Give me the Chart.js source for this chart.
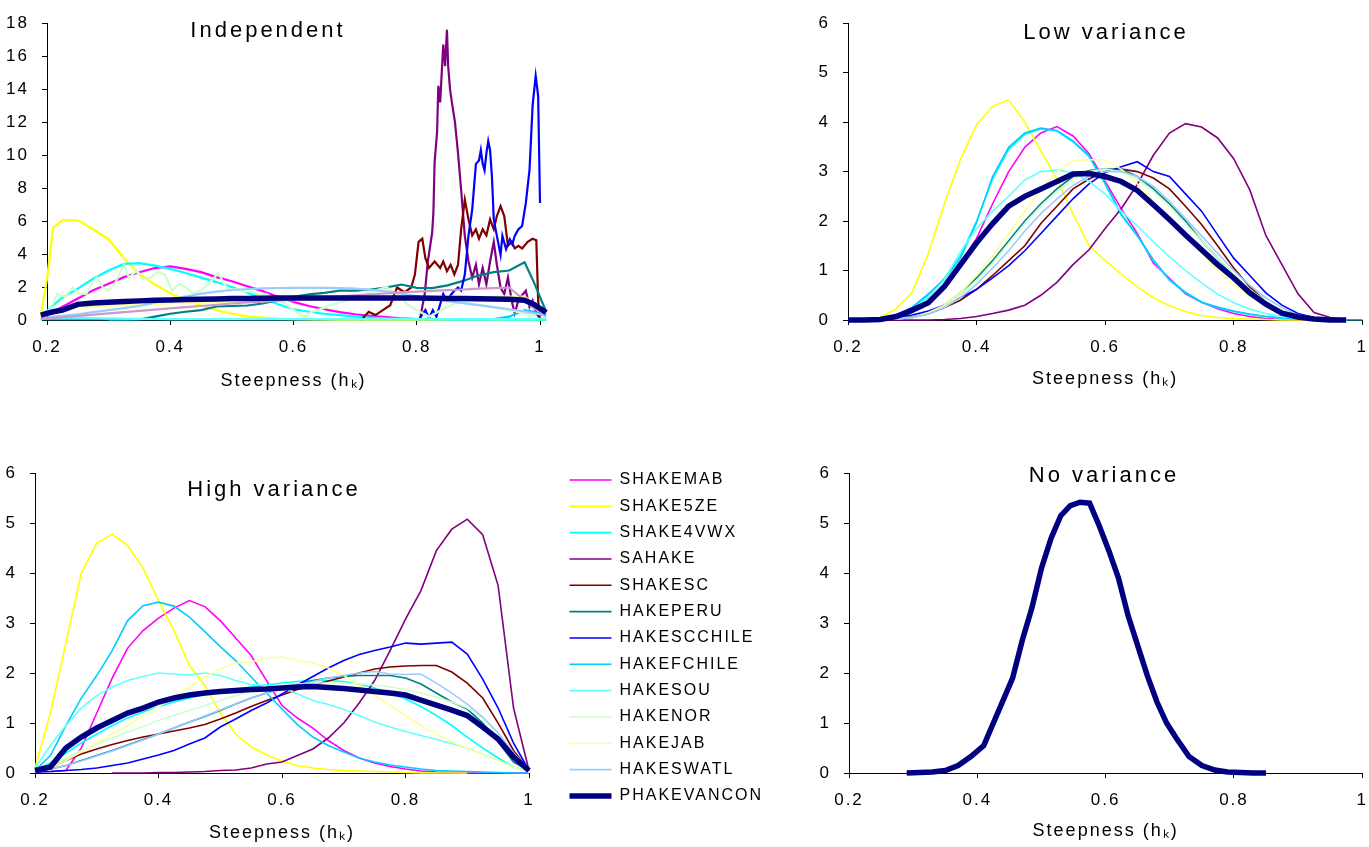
<!DOCTYPE html>
<html lang="en">
<head>
  <meta charset="UTF-8" />
  <title>Steepness (h) distributions</title>
  <style>
    html, body { margin: 0; padding: 0; background: #fff; overflow: hidden; }
    body { position: relative; width: 1369px; height: 847px; }
    canvas { position: absolute; }
  </style>
</head>
<body>
  <canvas id="indep" width="560" height="400" style="left:0;top:0"></canvas>
  <canvas id="low" width="600" height="400" style="left:780px;top:0"></canvas>
  <canvas id="high" width="773" height="397" style="left:0;top:450px"></canvas>
  <canvas id="none" width="600" height="397" style="left:780px;top:450px"></canvas>

  <script src="https://cdn.jsdelivr.net/npm/chart.js@4"></script>
  <script>
    // ---------- Independent ----------
    const indepX = [0.19, 0.2, 0.21, 0.225, 0.25, 0.275, 0.3, 0.325, 0.35, 0.375, 0.4, 0.425, 0.45, 0.475, 0.5, 0.525, 0.55, 0.575, 0.6, 0.625, 0.65, 0.675, 0.7, 0.725, 0.75, 0.775, 0.8, 0.825, 0.85, 0.875, 0.9, 0.925, 0.95, 0.975, 0.99, 1.01];
    const indepShakemab = [0.2, 0.3, 0.5, 0.8, 1.3, 1.8, 2.2, 2.6, 2.9, 3.15, 3.25, 3.1, 2.9, 2.6, 2.35, 2.05, 1.75, 1.4, 1.1, 0.85, 0.65, 0.48, 0.35, 0.25, 0.17, 0.1, 0.06, 0.04, 0.02, 0.01, 0, 0, 0, 0, 0, 0];
    const indepShake5ze = [0.3, 2.5, 5.6, 6.05, 6.05, 5.5, 4.9, 3.75, 2.8, 2.15, 1.62, 1.2, 0.88, 0.6, 0.38, 0.22, 0.14, 0.08, 0.05, 0.03, 0.02, 0.01, 0.01, 0, 0, 0, 0, 0, 0, 0, 0, 0, 0, 0, 0, 0];
    const indepShake4vwx = [0.3, 0.55, 0.9, 1.35, 1.9, 2.5, 3.0, 3.4, 3.45, 3.3, 3.1, 2.85, 2.57, 2.3, 2.0, 1.65, 1.3, 0.95, 0.65, 0.5, 0.38, 0.3, 0.2, 0.15, 0.1, 0.08, 0.06, 0.05, 0.04, 0.04, 0.03, 0.03, 0.02, 0.02, 0.02, 0.02];
    const indepHakeperu = [null, null, null, null, null, null, 0, 0.01, 0.03, 0.2, 0.38, 0.5, 0.6, 0.82, 0.85, 0.88, 1.0, 1.2, 1.4, 1.55, 1.65, 1.78, 1.78, 1.85, 1.97, 2.15, 1.95, 1.93, 2.1, 2.37, 2.7, 2.9, 3.0, 3.5, 2.3, 0.5];
    const indepHakefchile = [0.05, 0.05, 0.05, 0.05, 0.05, 0.05, 0.05, 0.05, 0.05, 0.05, 0.05, 0.05, 0.05, 0.05, 0.05, 0.05, 0.05, 0.05, 0.05, 0.05, 0.05, 0.05, 0.05, 0.05, 0.05, 0.05, 0.05, 0.05, 0.05, 0.05, 0.05, 0.05, 0.2, 0.6, 0.5, 0.25];
    const indepHakesou = [0.1, 0.12, 0.15, 0.15, 0.15, 0.12, 0.1, 0.08, 0.07, 0.06, 0.05, 0.05, 0.05, 0.05, 0.05, 0.05, 0.05, 0.05, 0.05, 0.05, 0.05, 0.05, 0.05, 0.05, 0.05, 0.05, 0.05, 0.05, 0.05, 0.05, 0.05, 0.05, 0.05, 0.05, 0.05, 0.1];
    const indepHakejab = [0.2, 0.3, 0.5, 0.65, 0.75, 0.8, 0.85, 0.9, 0.92, 0.95, 1.0, 1.02, 1.05, 1.08, 1.1, 1.13, 1.15, 1.18, 1.2, 1.22, 1.25, 1.28, 1.3, 1.32, 1.33, 1.35, 1.36, 1.38, 1.4, 1.4, 1.4, 1.42, 1.42, 1.42, 1.0, 0.3];
    const indepHakeswatl = [0.1, 0.15, 0.2, 0.25, 0.35, 0.48, 0.6, 0.72, 0.85, 1.05, 1.25, 1.42, 1.6, 1.72, 1.82, 1.88, 1.92, 1.94, 1.95, 1.95, 1.95, 1.93, 1.9, 1.83, 1.75, 1.6, 1.45, 1.3, 1.15, 1.02, 0.9, 0.78, 0.65, 0.52, 0.4, 0.3];
    const indepLilac = [0.05, 0.1, 0.13, 0.18, 0.25, 0.33, 0.4, 0.48, 0.55, 0.63, 0.7, 0.78, 0.85, 0.92, 1.0, 1.06, 1.12, 1.18, 1.25, 1.31, 1.37, 1.43, 1.5, 1.56, 1.62, 1.67, 1.72, 1.77, 1.81, 1.85, 1.9, 1.93, 1.97, 1.2, 0.7, 0.3];
    const indepPhakevancon = [0.3, 0.4, 0.5, 0.6, 0.95, 1.03, 1.08, 1.12, 1.16, 1.2, 1.22, 1.24, 1.26, 1.28, 1.3, 1.31, 1.32, 1.33, 1.34, 1.34, 1.34, 1.34, 1.34, 1.34, 1.33, 1.33, 1.33, 1.32, 1.31, 1.3, 1.29, 1.28, 1.26, 1.2, 0.95, 0.45];

    const indepSahakeX = [0.805, 0.813, 0.818, 0.825, 0.827, 0.829, 0.833, 0.835, 0.838, 0.843, 0.846, 0.849, 0.851, 0.854, 0.857, 0.862, 0.867, 0.872, 0.878, 0.884, 0.89, 0.896, 0.901, 0.907, 0.913, 0.919, 0.925, 0.93, 0.936, 0.942, 0.948, 0.954, 0.959, 0.965, 0.971, 0.977, 0.983, 0.988, 0.994, 1.0];
    const indepSahake = [0, 1.6, 3.55, 5.3, 6.5, 9.6, 11.4, 14.2, 13.2, 16.7, 15.4, 17.6, 15.4, 14.0, 13.2, 12.0, 10.1, 7.9, 5.1, 3.55, 2.57, 3.35, 2.17, 3.16, 2.17, 3.55, 4.74, 3.35, 1.97, 1.58, 2.57, 1.18, 0.4, 1.18, 1.5, 1.78, 0.79, 1.18, 0.4, 0.1];
    const indepShakescX = [0.71, 0.722, 0.733, 0.745, 0.757, 0.768, 0.78, 0.791, 0.797, 0.803, 0.809, 0.814, 0.82, 0.829, 0.838, 0.843, 0.849, 0.855, 0.861, 0.867, 0.872, 0.878, 0.884, 0.89, 0.896, 0.901, 0.907, 0.913, 0.919, 0.925, 0.93, 0.936, 0.942, 0.948, 0.954, 0.959, 0.965, 0.971, 0.98, 0.988, 0.994, 0.997, 1.0];
    const indepShakesc = [0, 0.5, 0.3, 0.6, 0.9, 1.97, 1.68, 1.97, 2.76, 4.74, 4.93, 3.75, 3.16, 3.55, 3.16, 3.55, 2.96, 3.35, 2.76, 3.35, 5.5, 7.3, 6.1, 5.13, 5.5, 4.93, 5.5, 5.13, 6.1, 5.5, 6.3, 6.9, 6.3, 4.5, 4.74, 4.34, 4.5, 4.34, 4.74, 4.93, 4.84, 1.2, 0];
    const indepHakescchileX = [0.803, 0.814, 0.82, 0.826, 0.832, 0.843, 0.849, 0.855, 0.861, 0.867, 0.872, 0.878, 0.884, 0.89, 0.896, 0.901, 0.904, 0.907, 0.91, 0.913, 0.916, 0.919, 0.922, 0.925, 0.93, 0.936, 0.939, 0.945, 0.951, 0.955, 0.959, 0.965, 0.971, 0.977, 0.983, 0.988, 0.993, 0.997, 1.0, 1.003, 1.006];
    const indepHakescchile = [0, 0.6, 0.1, 0.6, 0.2, 1.58, 1.18, 1.5, 1.78, 1.97, 1.78, 2.76, 5.13, 6.7, 9.47, 9.67, 10.3, 9.47, 9.08, 10.1, 10.85, 10.3, 8.7, 6.1, 5.1, 3.95, 5.1, 4.3, 4.9, 4.6, 5.1, 5.5, 5.7, 7.1, 9.1, 13.0, 14.8, 13.6, 7.1, 1.2, 0.1];
    const indepHakenorX = [0.19, 0.2, 0.21, 0.217, 0.23, 0.241, 0.252, 0.264, 0.272, 0.281, 0.29, 0.299, 0.31, 0.325, 0.333, 0.345, 0.355, 0.368, 0.38, 0.391, 0.403, 0.415, 0.426, 0.437, 0.449, 0.46, 0.47, 0.478, 0.487, 0.496, 0.51, 0.52, 0.53, 0.545, 0.555, 0.565, 0.575, 0.588, 0.6, 0.617, 0.63, 0.646, 0.66, 0.675, 0.69, 0.704, 0.718, 0.733, 0.742, 0.751, 0.762, 0.774, 0.783, 0.791, 0.805, 0.82, 0.835, 0.849, 0.862, 0.878, 0.892, 0.907, 0.92, 0.936, 0.95, 0.965, 0.98, 0.994];
    const indepHakenor = [0.3, 0.4, 1.0, 1.58, 1.4, 1.97, 1.6, 1.58, 2.2, 2.57, 2.0, 1.78, 2.2, 3.35, 2.57, 2.96, 2.5, 2.57, 2.9, 2.76, 1.78, 2.2, 1.97, 1.6, 1.78, 2.1, 2.5, 2.86, 2.2, 1.78, 1.9, 1.7, 1.78, 1.5, 1.6, 1.38, 1.2, 0.99, 0.6, 0.2, 0.5, 0.69, 0.9, 1.08, 1.2, 1.38, 1.6, 1.78, 1.9, 2.0, 1.7, 1.38, 1.0, 0.79, 0.5, 0.2, 0.5, 0.79, 1.0, 1.08, 0.95, 0.89, 0.8, 0.69, 0.6, 0.49, 0.35, 0.2];

    // ---------- Low variance / High variance (shared steepness grid) ----------
    const gridX = [0.2, 0.225, 0.25, 0.275, 0.3, 0.325, 0.35, 0.375, 0.4, 0.425, 0.45, 0.475, 0.5, 0.525, 0.55, 0.575, 0.6, 0.625, 0.65, 0.675, 0.7, 0.725, 0.75, 0.775, 0.8, 0.825, 0.85, 0.875, 0.9, 0.925, 0.95, 0.975, 1.0];

    const lowShakemab = [0, 0, 0.01, 0.05, 0.15, 0.38, 0.7, 1.15, 1.65, 2.35, 3.0, 3.49, 3.78, 3.91, 3.72, 3.36, 2.8, 2.25, 1.75, 1.15, 0.84, 0.53, 0.36, 0.23, 0.13, 0.07, 0.03, 0.01, 0, 0, 0, 0, null];
    const lowShake5ze = [0, 0, 0.05, 0.23, 0.56, 1.35, 2.35, 3.25, 3.95, 4.32, 4.45, 4.0, 3.42, 2.85, 2.15, 1.5, 1.2, 0.93, 0.67, 0.45, 0.29, 0.17, 0.09, 0.05, 0.03, 0.02, 0.01, 0, 0, 0, 0, 0, null];
    const lowShake4vwx = [0, 0, 0.01, 0.08, 0.24, 0.5, 0.85, 1.3, 2.0, 2.85, 3.45, 3.75, 3.86, 3.82, 3.6, 3.3, 2.75, 2.12, 1.7, 1.2, 0.8, 0.55, 0.36, 0.25, 0.17, 0.11, 0.07, 0.04, 0.02, 0.01, 0, 0, null];
    const lowSahake = [0, 0, 0, 0, 0, 0, 0.01, 0.03, 0.07, 0.13, 0.2, 0.3, 0.5, 0.76, 1.12, 1.42, 1.85, 2.25, 2.74, 3.33, 3.78, 3.97, 3.9, 3.68, 3.26, 2.63, 1.71, 1.12, 0.53, 0.15, 0.05, 0.01, null];
    const lowShakesc = [0, 0, 0, 0.02, 0.05, 0.12, 0.25, 0.4, 0.62, 0.9, 1.2, 1.5, 1.95, 2.3, 2.65, 2.85, 3.0, 3.05, 3.0, 2.87, 2.65, 2.3, 1.93, 1.5, 1.05, 0.67, 0.37, 0.17, 0.07, 0.02, 0, 0, null];
    const lowHakeperu = [0, 0, 0.01, 0.03, 0.06, 0.15, 0.3, 0.55, 0.85, 1.2, 1.6, 2.0, 2.35, 2.65, 2.9, 3.02, 3.05, 3.05, 2.9, 2.65, 2.35, 2.0, 1.6, 1.25, 0.9, 0.6, 0.35, 0.17, 0.07, 0.02, 0, 0, 0];
    const lowHakescchile = [0, 0, 0.02, 0.05, 0.1, 0.18, 0.3, 0.45, 0.62, 0.85, 1.1, 1.4, 1.75, 2.1, 2.45, 2.75, 2.98, 3.1, 3.2, 3.0, 2.9, 2.55, 2.2, 1.72, 1.25, 0.9, 0.55, 0.3, 0.13, 0.05, 0.01, 0, null];
    const lowHakefchile = [0, 0, 0.01, 0.1, 0.26, 0.53, 0.82, 1.25, 1.97, 2.9, 3.49, 3.78, 3.88, 3.83, 3.62, 3.32, 2.76, 2.14, 1.71, 1.22, 0.82, 0.56, 0.36, 0.26, 0.18, 0.12, 0.07, 0.04, 0.02, 0.01, 0, 0, null];
    const lowHakesou = [0, 0, 0.03, 0.1, 0.22, 0.45, 0.82, 1.38, 1.85, 2.2, 2.5, 2.83, 3.0, 3.03, 2.98, 2.8, 2.55, 2.2, 1.9, 1.58, 1.28, 1.0, 0.75, 0.52, 0.35, 0.22, 0.13, 0.07, 0.03, 0.01, 0, 0, null];
    const lowHakenor = [0, 0, 0.01, 0.02, 0.05, 0.12, 0.27, 0.5, 0.8, 1.15, 1.55, 1.95, 2.3, 2.6, 2.85, 3.0, 3.05, 3.0, 2.85, 2.6, 2.3, 1.95, 1.6, 1.25, 0.92, 0.62, 0.38, 0.2, 0.08, 0.03, 0, 0, null];
    const lowHakejab = [0, 0, 0.01, 0.02, 0.05, 0.15, 0.3, 0.55, 0.9, 1.3, 1.75, 2.2, 2.65, 3.0, 3.22, 3.24, 3.24, 3.05, 2.75, 2.4, 2.05, 1.7, 1.35, 1.0, 0.72, 0.48, 0.3, 0.16, 0.07, 0.02, 0, 0, null];
    const lowHakeswatl = [0, 0, 0.01, 0.02, 0.05, 0.12, 0.25, 0.45, 0.72, 1.05, 1.4, 1.8, 2.15, 2.45, 2.72, 2.9, 3.0, 3.0, 2.9, 2.7, 2.4, 2.05, 1.7, 1.35, 1.0, 0.7, 0.45, 0.25, 0.1, 0.04, 0.01, 0, null];
    const lowPhakevancon = [0, 0, 0.01, 0.07, 0.2, 0.35, 0.68, 1.12, 1.56, 1.95, 2.3, 2.5, 2.65, 2.8, 2.95, 2.96, 2.9, 2.8, 2.62, 2.33, 2.03, 1.72, 1.42, 1.12, 0.85, 0.55, 0.32, 0.14, 0.06, 0.02, 0, 0, null];

    const highShakemab = [0.02, 0.03, 0.05, 0.5, 1.2, 1.9, 2.5, 2.85, 3.1, 3.3, 3.45, 3.33, 3.05, 2.7, 2.35, 1.85, 1.35, 1.1, 0.9, 0.65, 0.45, 0.3, 0.2, 0.13, 0.08, 0.04, 0.02, 0.01, 0, 0, 0, 0, 0];
    const highShake5ze = [0.1, 1.2, 2.6, 4.0, 4.6, 4.78, 4.55, 4.1, 3.45, 2.85, 2.15, 1.75, 1.2, 0.78, 0.52, 0.36, 0.24, 0.15, 0.1, 0.07, 0.05, 0.04, 0.03, 0.02, 0.01, 0, 0, 0, 0, null, null, null, null];
    const highShake4vwx = [0.05, 0.2, 0.4, 0.6, 0.78, 0.95, 1.1, 1.22, 1.33, 1.42, 1.5, 1.57, 1.63, 1.68, 1.72, 1.76, 1.8, 1.83, 1.85, 1.85, 1.83, 1.78, 1.7, 1.6, 1.48, 1.33, 1.15, 0.95, 0.72, 0.5, 0.3, 0.12, 0.03];
    const highSahake = [null, null, null, null, null, 0, 0, 0, 0.01, 0.01, 0.02, 0.03, 0.05, 0.06, 0.1, 0.18, 0.22, 0.35, 0.48, 0.7, 1.0, 1.4, 1.85, 2.45, 3.08, 3.65, 4.45, 4.88, 5.08, 4.77, 3.75, 1.3, 0.05];
    const highShakesc = [0.02, 0.12, 0.25, 0.38, 0.48, 0.57, 0.65, 0.72, 0.78, 0.84, 0.9, 0.97, 1.08, 1.2, 1.33, 1.45, 1.56, 1.67, 1.76, 1.84, 1.92, 2.0, 2.08, 2.12, 2.14, 2.15, 2.15, 2.02, 1.8, 1.5, 1.0, 0.45, 0.05];
    const highHakeperu = [0.02, 0.08, 0.15, 0.25, 0.35, 0.45, 0.56, 0.67, 0.78, 0.9, 1.02, 1.13, 1.25, 1.38, 1.5, 1.6, 1.7, 1.78, 1.85, 1.9, 1.93, 1.95, 1.95, 1.95, 1.9, 1.78, 1.6, 1.42, 1.28, 1.0, 0.62, 0.22, 0.05];
    const highHakescchile = [0.02, 0.03, 0.05, 0.07, 0.1, 0.15, 0.2, 0.28, 0.36, 0.45, 0.58, 0.7, 0.92, 1.08, 1.25, 1.4, 1.58, 1.76, 1.93, 2.1, 2.25, 2.37, 2.45, 2.52, 2.6, 2.58, 2.6, 2.62, 2.38, 1.88, 1.3, 0.6, 0.05];
    const highHakefchile = [0.05, 0.35, 0.95, 1.5, 1.95, 2.45, 3.05, 3.35, 3.42, 3.34, 3.12, 2.83, 2.53, 2.25, 1.92, 1.6, 1.28, 0.97, 0.72, 0.55, 0.42, 0.3, 0.22, 0.16, 0.12, 0.08, 0.05, 0.04, 0.03, 0.02, 0.01, 0, 0];
    const highHakesou = [0.1, 0.55, 0.95, 1.3, 1.55, 1.72, 1.85, 1.93, 2.0, 1.98, 1.96, 2.0, 1.95, 1.85, 1.77, 1.75, 1.72, 1.58, 1.45, 1.37, 1.27, 1.15, 1.02, 0.92, 0.83, 0.75, 0.67, 0.59, 0.5, 0.38, 0.25, 0.12, 0.02];
    const highHakenor = [0.02, 0.15, 0.3, 0.45, 0.58, 0.7, 0.82, 0.93, 1.05, 1.15, 1.25, 1.35, 1.45, 1.55, 1.63, 1.7, 1.75, 1.78, 1.8, 1.8, 1.8, 1.78, 1.76, 1.72, 1.67, 1.6, 1.52, 1.42, 1.3, 1.1, 0.8, 0.4, 0.05];
    const highHakejab = [0.02, 0.12, 0.25, 0.42, 0.6, 0.78, 0.95, 1.15, 1.33, 1.52, 1.72, 1.92, 2.08, 2.2, 2.22, 2.3, 2.32, 2.25, 2.2, 2.1, 1.95, 1.75, 1.55, 1.35, 1.15, 0.95, 0.78, 0.62, 0.5, 0.38, 0.25, 0.12, 0.02];
    const highHakeswatl = [0.02, 0.08, 0.15, 0.24, 0.34, 0.44, 0.55, 0.66, 0.78, 0.9, 1.02, 1.14, 1.26, 1.38, 1.5, 1.6, 1.68, 1.75, 1.83, 1.9, 1.95, 2.0, 2.03, 1.98, 1.97, 1.98, 1.8, 1.6, 1.38, 1.12, 0.8, 0.4, 0.05];
    const highPhakevancon = [0.05, 0.12, 0.5, 0.72, 0.9, 1.05, 1.2, 1.3, 1.42, 1.5, 1.56, 1.6, 1.63, 1.65, 1.67, 1.68, 1.7, 1.72, 1.73, 1.71, 1.69, 1.66, 1.63, 1.6, 1.56, 1.46, 1.36, 1.26, 1.15, 0.92, 0.68, 0.32, 0.05];

    // ---------- No variance ----------
    const noneX = [0.29, 0.31, 0.33, 0.35, 0.37, 0.39, 0.41, 0.425, 0.44, 0.455, 0.47, 0.485, 0.5, 0.515, 0.53, 0.545, 0.56, 0.575, 0.59, 0.605, 0.62, 0.635, 0.65, 0.665, 0.68, 0.695, 0.71, 0.73, 0.75, 0.77, 0.79, 0.81, 0.83, 0.85];
    const nonePhakevancon = [0, 0.01, 0.02, 0.05, 0.15, 0.33, 0.55, 1.0, 1.45, 1.9, 2.65, 3.3, 4.1, 4.7, 5.15, 5.35, 5.42, 5.4, 4.95, 4.45, 3.9, 3.15, 2.55, 1.95, 1.42, 1.0, 0.7, 0.33, 0.15, 0.06, 0.02, 0.01, 0, 0];

    // ---------- styling ----------
    const lineColors = {
      SHAKEMAB: '#ff00ff', SHAKE5ZE: '#ffff00', SHAKE4VWX: '#00ffff', SAHAKE: '#800080',
      SHAKESC: '#800000', HAKEPERU: '#008080', HAKESCCHILE: '#0000ff', HAKEFCHILE: '#00ccff',
      HAKESOU: '#66ffff', HAKENOR: '#ccffcc', HAKEJAB: '#ffff99', HAKESWATL: '#99ccff',
      PHAKEVANCON: '#000080', '': '#cc99cc'
    };

    // later series are drawn on top, like in the spreadsheet
    function buildSets(list, thin) {
      return list.map(([name, xs, ys], i) => ({
        label: name,
        data: xs.map((x, k) => ({ x: x, y: ys[k] })),
        borderColor: lineColors[name],
        backgroundColor: lineColors[name],
        borderWidth: name === 'PHAKEVANCON' ? 5.5 : (thin || 1.6),
        pointRadius: 0,
        tension: 0,
        clip: false,
        order: -i
      }));
    }

    const panelTitle = {
      id: 'panelTitle',
      afterDraw(chart, args, opts) {
        if (!opts.text) return;
        const ctx = chart.ctx;
        ctx.save();
        ctx.font = '22px "Liberation Sans", Arial, sans-serif';
        ctx.letterSpacing = '3px';
        ctx.fillStyle = '#000';
        ctx.textAlign = 'center';
        ctx.textBaseline = 'middle';
        ctx.fillText(opts.text, opts.x, opts.y);
        ctx.restore();
      }
    };

    // the old spreadsheet spreads its letters out a little
    const spacing = {
      id: 'spacing',
      beforeUpdate(chart, args, opts) { chart.ctx.letterSpacing = (opts.px || 0) + 'px'; },
      beforeDraw(chart, args, opts) { chart.ctx.letterSpacing = (opts.px || 0) + 'px'; }
    };

    Chart.register(panelTitle, spacing);
    Chart.defaults.font.family = '"Liberation Sans", Arial, sans-serif';
    Chart.defaults.color = '#000';

    function panelOptions(o) {
      return {
        responsive: false,
        animation: false,
        events: [],
        layout: { padding: o.padding },
        scales: {
          x: {
            type: 'linear', min: 0.2, max: 1,
            ticks: {
              stepSize: 0.2, autoSkip: false, maxRotation: 0, padding: 12, font: { size: 17 },
              callback: v => String(Number(v.toFixed(2)))
            },
            grid: { drawOnChartArea: false, color: '#000', tickLength: 5 },
            border: { color: '#000' },
            title: { display: true, text: 'Steepness (hₖ)', font: { size: 18 }, padding: { top: 0, bottom: o.titlePad } },
            afterFit: s => { s.height = o.xHeight; }
          },
          y: {
            min: 0, max: o.yMax,
            ticks: { stepSize: o.yStep, padding: 13, font: { size: 17 } },
            grid: { drawOnChartArea: false, color: '#000', tickLength: 5 },
            border: { color: '#000' },
            afterFit: s => { s.width = o.yWidth; }
          }
        },
        plugins: {
          legend: { display: false },
          tooltip: { enabled: false },
          panelTitle: { text: o.title, x: o.titleX, y: o.titleY },
          spacing: { px: 2 }
        }
      };
    }

    new Chart(document.getElementById('indep'), {
      type: 'line',
      data: {
        datasets: buildSets([
          ['SHAKEMAB', indepX, indepShakemab],
          ['SHAKE5ZE', indepX, indepShake5ze],
          ['SHAKE4VWX', indepX, indepShake4vwx],
          ['SAHAKE', indepSahakeX, indepSahake],
          ['SHAKESC', indepShakescX, indepShakesc],
          ['HAKEPERU', indepX, indepHakeperu],
          ['HAKESCCHILE', indepHakescchileX, indepHakescchile],
          ['HAKEFCHILE', indepX, indepHakefchile],
          ['HAKESOU', indepX, indepHakesou],
          ['HAKENOR', indepHakenorX, indepHakenor],
          ['HAKEJAB', indepX, indepHakejab],
          ['HAKESWATL', indepX, indepHakeswatl],
          ['', indepX, indepLilac],
          ['PHAKEVANCON', indepX, indepPhakevancon]
        ], 2.2)
      },
      options: panelOptions({
        title: 'Independent', titleX: 268, titleY: 31,
        padding: { left: 0, top: 16, right: 20, bottom: 0 },
        yMax: 18, yStep: 2, yWidth: 47, xHeight: 80, titlePad: 8
      })
    });

    new Chart(document.getElementById('low'), {
      type: 'line',
      data: {
        datasets: buildSets([
          ['SHAKEMAB', gridX, lowShakemab],
          ['SHAKE5ZE', gridX, lowShake5ze],
          ['SHAKE4VWX', gridX, lowShake4vwx],
          ['SAHAKE', gridX, lowSahake],
          ['SHAKESC', gridX, lowShakesc],
          ['HAKEPERU', gridX, lowHakeperu],
          ['HAKESCCHILE', gridX, lowHakescchile],
          ['HAKEFCHILE', gridX, lowHakefchile],
          ['HAKESOU', gridX, lowHakesou],
          ['HAKENOR', gridX, lowHakenor],
          ['HAKEJAB', gridX, lowHakejab],
          ['HAKESWATL', gridX, lowHakeswatl],
          ['PHAKEVANCON', gridX, lowPhakevancon]
        ])
      },
      options: panelOptions({
        title: 'Low variance', titleX: 326, titleY: 33,
        padding: { left: 0, top: 16, right: 13, bottom: 0 },
        yMax: 6, yStep: 1, yWidth: 68, xHeight: 80, titlePad: 10
      })
    });

    const highOptions = panelOptions({
      title: 'High variance', titleX: 274, titleY: 40,
      padding: { left: 0, top: 11.67, right: 0, bottom: 0 },
      yMax: 6, yStep: 1, yWidth: 35, xHeight: 74, titlePad: 3
    });
    // empty bands that keep the plot clear of the legend column
    highOptions.scales.gapTop = {
      type: 'linear', position: 'top',
      ticks: { display: false }, grid: { display: false }, border: { display: false },
      afterFit: s => { s.height = 8.33; }
    };
    highOptions.scales.gapRight = {
      type: 'linear', position: 'right',
      ticks: { display: false }, grid: { display: false }, border: { display: false },
      afterFit: s => { s.width = s.chart.width - s.chart.legend.width - 529; }
    };
    highOptions.plugins.legend = {
      display: true,
      position: 'right',
      align: 'start',
      maxWidth: 320,
      labels: {
        usePointStyle: true,
        pointStyle: 'line',
        pointStyleWidth: 42,
        boxHeight: 16,
        padding: 10.33,
        color: '#000',
        font: { size: 16 },
        sort: (a, b) => a.datasetIndex - b.datasetIndex
      }
    };

    new Chart(document.getElementById('high'), {
      type: 'line',
      data: {
        datasets: buildSets([
          ['SHAKEMAB', gridX, highShakemab],
          ['SHAKE5ZE', gridX, highShake5ze],
          ['SHAKE4VWX', gridX, highShake4vwx],
          ['SAHAKE', gridX, highSahake],
          ['SHAKESC', gridX, highShakesc],
          ['HAKEPERU', gridX, highHakeperu],
          ['HAKESCCHILE', gridX, highHakescchile],
          ['HAKEFCHILE', gridX, highHakefchile],
          ['HAKESOU', gridX, highHakesou],
          ['HAKENOR', gridX, highHakenor],
          ['HAKEJAB', gridX, highHakejab],
          ['HAKESWATL', gridX, highHakeswatl],
          ['PHAKEVANCON', gridX, highPhakevancon]
        ])
      },
      options: highOptions
    });

    new Chart(document.getElementById('none'), {
      type: 'line',
      data: {
        datasets: buildSets([
          ['PHAKEVANCON', noneX, nonePhakevancon]
        ])
      },
      options: panelOptions({
        title: 'No variance', titleX: 324, titleY: 26,
        padding: { left: 0, top: 20, right: 13, bottom: 0 },
        yMax: 6, yStep: 1, yWidth: 69, xHeight: 74, titlePad: 5
      })
    });
  </script>
</body>
</html>
